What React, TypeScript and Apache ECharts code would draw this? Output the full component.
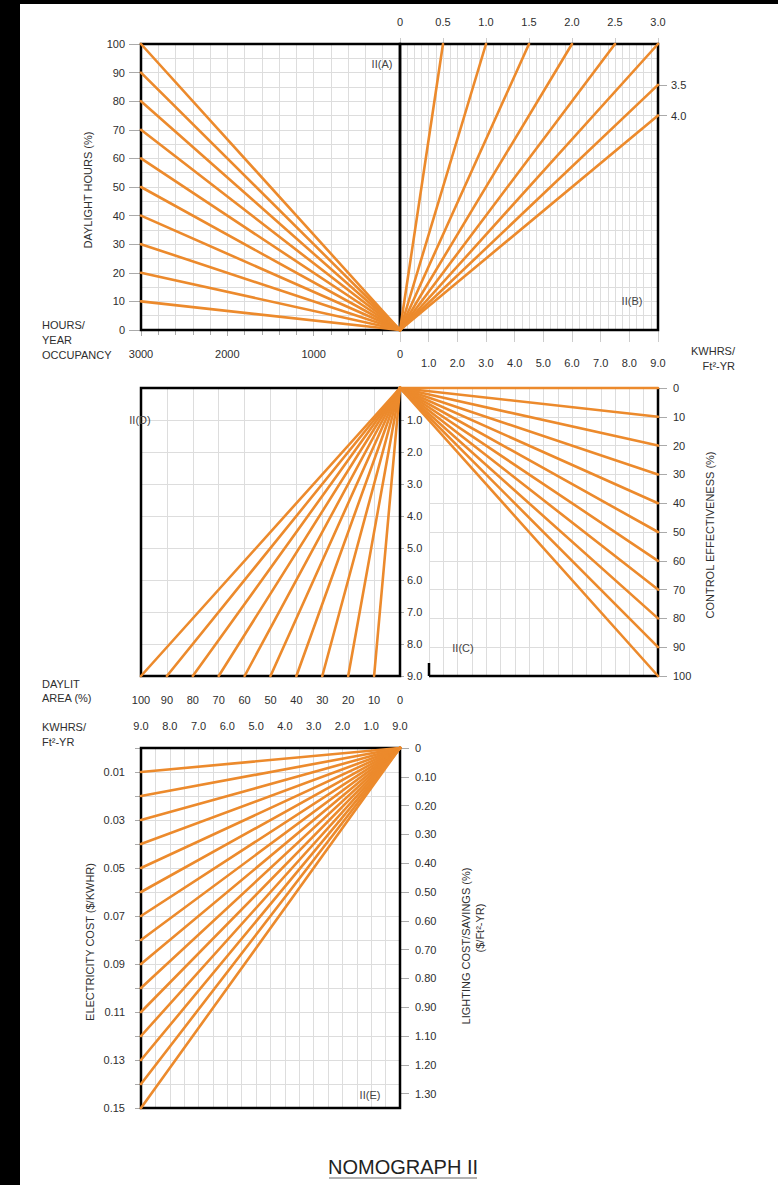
import React, { useEffect, useRef } from "react";
import * as echarts from "echarts";

// ---------- data ----------
const daylightHours = [10, 20, 30, 40, 50, 60, 70, 80, 90, 100];
const occupancyMax = 3000;
// panel B: lighting power density fan (end on top W/ft2 scale, end daylight %)
const lpdEndTop = [0.5, 1.0, 1.5, 2.0, 2.5, 3.0, 3.0, 3.0];
const lpdEndPct = [100, 100, 100, 100, 100, 100, 85.7, 75];
const lpdRightValues = [85.7, 75];
const lpdRightLabels = ["3.5", "4.0"];
const controlEff = [0, 10, 20, 30, 40, 50, 60, 70, 80, 90, 100];
const kwhMax = 9;
const daylitArea = [10, 20, 30, 40, 50, 60, 70, 80, 90, 100];
const elecCost = [0.01, 0.02, 0.03, 0.04, 0.05, 0.06, 0.07, 0.08, 0.09, 0.1, 0.11, 0.12, 0.13, 0.14, 0.15];
const elecCostLabels = [0.01, 0.03, 0.05, 0.07, 0.09, 0.11, 0.13, 0.15];
const eTopLabels = ["9.0", "8.0", "7.0", "6.0", "5.0", "4.0", "3.0", "2.0", "1.0", "9.0"];
const eRightLabels = ["0", "0.10", "0.20", "0.30", "0.40", "0.50", "0.60", "0.70", "0.80", "0.90", "1.10", "1.20", "1.30"];
const eRightPos = [0, 1, 2, 3, 4, 5, 6, 7, 8, 9, 10, 11, 12];

// ---------- style / layout ----------
const FONT = '"Liberation Sans", Arial, Helvetica, sans-serif';
const ORANGE = "#EC8A2C";
const GRIDC = "#dddddd";
const TXT = "#2e2e2e";
const TICKC = "#aaaaaa";

const PA = { left: 141, top: 44, width: 259, height: 286 };
const PB = { left: 400, top: 44, width: 258, height: 286 };
const PC = { left: 400, top: 388, width: 258, height: 288 };
const PC2 = { left: 429, top: 388, width: 229, height: 288 };
const PD = { left: 141, top: 388, width: 259, height: 288 };
const PE = { left: 141, top: 748, width: 259, height: 360 };

const gridOf = (p: any) => ({ ...p, show: false, containLabel: false, outerBoundsMode: "none" });
const lab = (extra: any = {}) => ({ show: true, color: TXT, fontSize: 11, fontFamily: FONT, ...extra });
const split = () => ({ show: true, lineStyle: { color: GRIDC, width: 1 } });
const tick = (length: number, color = TICKC, extra: any = {}) => ({ show: true, length, lineStyle: { color }, ...extra });
const ax = (o: any) => ({
  type: "value",
  axisLine: { show: false, onZero: false },
  axisTick: { show: false },
  axisLabel: { show: false },
  splitLine: { show: false },
  minorTick: { show: false },
  minorSplitLine: { show: false },
  ...o,
});
const hide0 = (v: number) => (v === 0 ? "" : v.toFixed(1));

function buildOption() {
  const xAxis: any[] = [
    // 0: A occupancy labels (series A)
    ax({ gridIndex: 0, min: 0, max: occupancyMax, interval: 1000, inverse: true, position: "bottom",
      axisTick: tick(6), axisLabel: lab({ margin: 18, formatter: (v: number) => String(v) }) }),
    // 1: A grid every 200 h
    ax({ gridIndex: 0, min: 0, max: occupancyMax, interval: 200, inverse: true, position: "bottom",
      axisTick: tick(5), splitLine: split() }),
    // 2: B bottom kWh labels
    ax({ gridIndex: 1, min: 0, max: kwhMax, interval: 1, position: "bottom",
      axisTick: tick(12, "#cccccc"), axisLabel: lab({ margin: 27, formatter: hide0 }) }),
    // 3: B top W/ft2 (series B)
    ax({ gridIndex: 1, min: 0, max: 3, interval: 0.5, position: "top",
      axisTick: tick(6, "#cccccc"), axisLabel: lab({ margin: 17, formatter: (v: number) => (v === 0 ? "0" : v.toFixed(1)) }) }),
    // 4: B grid every 0.25 kWh
    ax({ gridIndex: 1, min: 0, max: kwhMax, interval: 0.25, position: "bottom", splitLine: split() }),
    // 5: C data axis (series C)
    ax({ gridIndex: 2, min: 0, max: kwhMax, position: "top" }),
    // 6: C grid
    ax({ gridIndex: 3, min: 1, max: kwhMax, interval: 0.5, position: "top", splitLine: split() }),
    // 7: D daylit area (series D)
    ax({ gridIndex: 4, min: 0, max: 100, interval: 10, inverse: true, position: "bottom",
      axisLabel: lab({ margin: 18 }), splitLine: split() }),
    // 8: E kWh labels (series E)
    ax({ gridIndex: 5, min: 0, max: kwhMax, interval: 1, inverse: true, position: "top",
      axisLabel: lab({ margin: 17, formatter: (v: number) => eTopLabels[kwhMax - Math.round(v)] }) }),
    // 9: E grid every 0.5 kWh
    ax({ gridIndex: 5, min: 0, max: kwhMax, interval: 0.5, inverse: true, position: "top", splitLine: split() }),
  ];

  const yAxis: any[] = [
    // 0: A daylight hours labels (series A)
    ax({ gridIndex: 0, min: 0, max: 100, interval: 10, position: "left",
      axisTick: tick(12), axisLabel: lab({ margin: 16 }) }),
    // 1: A grid every 5 %
    ax({ gridIndex: 0, min: 0, max: 100, interval: 5, position: "right", splitLine: split() }),
    // 2: B right labels 3.5 / 4.0 (series B)
    ax({ gridIndex: 1, min: 0, max: 100, position: "right",
      axisTick: tick(9, TICKC, { customValues: lpdRightValues }),
      axisLabel: lab({ margin: 13, customValues: lpdRightValues,
        formatter: (v: number) => lpdRightLabels[lpdRightValues.indexOf(v)] ?? "" }) }),
    // 3: B grid every 5 %
    ax({ gridIndex: 1, min: 0, max: 100, interval: 5, position: "left", splitLine: split() }),
    // 4: C control effectiveness (series C)
    ax({ gridIndex: 2, min: 0, max: 100, interval: 10, inverse: true, position: "right",
      axisTick: tick(9), axisLabel: lab({ margin: 15 }) }),
    // 5: C grid
    ax({ gridIndex: 3, min: 0, max: 100, interval: 10, inverse: true, position: "right", splitLine: split() }),
    // 6: D kWh (series D)
    ax({ gridIndex: 4, min: 0, max: kwhMax, interval: 1, inverse: true, position: "right",
      axisTick: tick(4), axisLabel: lab({ margin: 7, formatter: hide0 }), splitLine: split() }),
    // 7: E electricity cost labels (series E)
    ax({ gridIndex: 5, min: 0, max: 0.15, interval: 0.01, inverse: true, position: "left",
      axisTick: tick(6),
      axisLabel: lab({ margin: 16, customValues: elecCostLabels, formatter: (v: number) => v.toFixed(2) }) }),
    // 8: E grid every 0.01
    ax({ gridIndex: 5, min: 0, max: 0.15, interval: 0.01, inverse: true, position: "left", splitLine: split() }),
    // 9: E lighting cost / savings
    ax({ gridIndex: 5, min: 0, max: 12.5, inverse: true, position: "right",
      axisTick: tick(9, TICKC, { customValues: eRightPos }),
      axisLabel: lab({ margin: 15, customValues: eRightPos, formatter: (v: number) => eRightLabels[Math.round(v)] ?? "" }) }),
  ];

  const seg = (xi: number, yi: number, a: number[], b: number[]) => ({
    type: "line", xAxisIndex: xi, yAxisIndex: yi, data: [a, b],
    symbol: "none", showSymbol: false, silent: true, clip: false, z: 10,
    lineStyle: { color: ORANGE, width: 2.6, cap: "round" },
  });

  const series: any[] = [
    ...daylightHours.map((d) => seg(0, 0, [0, 0], [occupancyMax, d])),
    ...lpdEndTop.map((x, i) => seg(3, 2, [0, 0], [x, lpdEndPct[i]])),
    ...controlEff.map((c) => seg(5, 4, [0, 0], [kwhMax, c])),
    ...daylitArea.map((a) => seg(7, 6, [0, 0], [a, kwhMax])),
    ...elecCost.map((c) => seg(8, 7, [0, 0], [kwhMax, c])),
  ];

  const txt = (x: number, y: number, text: string, o: any = {}) => ({
    type: "text", x, y, rotation: o.rot || 0, z: 20, silent: true,
    style: {
      text, fill: o.fill || TXT, font: `${o.size || 11}px ${FONT}`,
      textAlign: o.align || "left", align: o.align || "left",
      textVerticalAlign: "middle", verticalAlign: "middle",
    },
  });
  const box = (p: any) => ({
    type: "rect", z: 8, silent: true,
    shape: { x: p.left, y: p.top, width: p.width, height: p.height },
    style: { fill: "none", stroke: "#000", lineWidth: 2.5 },
  });
  const ln = (x1: number, y1: number, x2: number, y2: number, stroke = "#000", w = 2.5) => ({
    type: "line", z: 8, silent: true, shape: { x1, y1, x2, y2 }, style: { stroke, lineWidth: w },
  });
  const R = Math.PI / 2;

  const graphic: any[] = [
    { type: "rect", z: 30, shape: { x: 0, y: 0, width: 778, height: 4 }, style: { fill: "#000" } },
    { type: "rect", z: 30, shape: { x: 0, y: 0, width: 20, height: 1185 }, style: { fill: "#000" } },
    box(PA), box(PB), box(PD), box(PE),
    ln(PC.left + PC.width, PC.top, PC.left + PC.width, PC.top + PC.height),
    ln(PC2.left, PC.top + PC.height, PC.left + PC.width, PC.top + PC.height),
    ln(PC2.left, PC.top + PC.height - 13, PC2.left, PC.top + PC.height),
    txt(88, 190, "DAYLIGHT HOURS (%)", { rot: R, align: "center" }),
    txt(42, 325, "HOURS/"), txt(42, 340, "YEAR"), txt(42, 355, "OCCUPANCY"),
    txt(382, 64, "II(A)", { align: "center", fill: "#444" }),
    txt(632, 301, "II(B)", { align: "center", fill: "#444" }),
    txt(735, 351, "KWHRS/", { align: "right" }),
    txt(735, 366, "Ft²-YR", { align: "right" }),
    txt(710, 535, "CONTROL EFFECTIVENESS (%)", { rot: R, align: "center" }),
    txt(463, 648, "II(C)", { align: "center", fill: "#444" }),
    txt(140, 420, "II(D)", { align: "center", fill: "#444" }),
    txt(42, 684, "DAYLIT"), txt(42, 698, "AREA (%)"),
    txt(42, 727, "KWHRS/"), txt(42, 742, "Ft²-YR"),
    txt(90, 942, "ELECTRICITY COST ($/KWHR)", { rot: R, align: "center" }),
    txt(466, 946, "LIGHTING COST/SAVINGS (%)", { rot: R, align: "center" }),
    txt(480, 928, "($/Ft²-YR)", { rot: R, align: "center" }),
    txt(370, 1095, "II(E)", { align: "center", fill: "#444" }),
    txt(403, 1167, "NOMOGRAPH II", { align: "center", size: 20, fill: "#222" }),
    ln(329, 1178, 477, 1178, "#999999", 1.5),
  ];

  return {
    animation: false,
    backgroundColor: "#ffffff",
    textStyle: { fontFamily: FONT },
    grid: [gridOf(PA), gridOf(PB), gridOf(PC), gridOf(PC2), gridOf(PD), gridOf(PE)],
    xAxis,
    yAxis,
    series,
    graphic,
  };
}

export default function App() {
  const ref = useRef<HTMLDivElement>(null);
  useEffect(() => {
    if (!ref.current) return;
    const chart = echarts.init(ref.current, null, { renderer: "svg" });
    chart.setOption(buildOption() as any);
    return () => chart.dispose();
  }, []);
  return (
    <div
      ref={ref}
      style={{ position: "absolute", left: 0, top: 0, width: 778, height: 1185, background: "#fff" }}
    />
  );
}
